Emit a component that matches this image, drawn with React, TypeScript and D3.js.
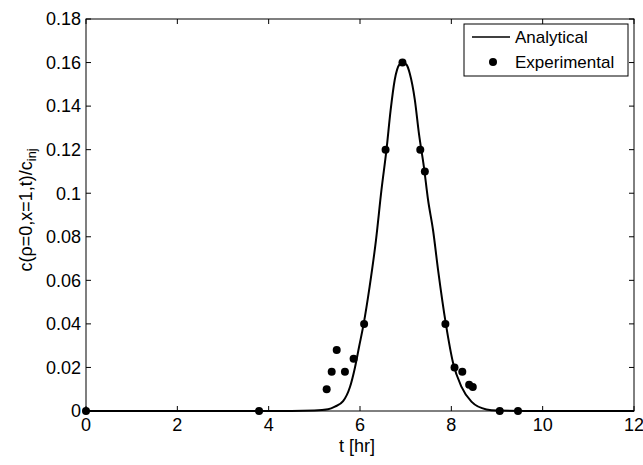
import React, { useEffect, useRef } from 'react';
import * as d3 from 'd3';

// analytical solution
const curveT = [0, 3, 4.5, 5.0, 5.3, 5.45, 5.63, 5.78, 5.89, 5.98, 6.08, 6.21, 6.35, 6.47, 6.58, 6.67, 6.76, 6.86, 6.94, 7.02, 7.09, 7.2, 7.29, 7.4, 7.49, 7.6, 7.71, 7.88, 8.04, 8.22, 8.44, 8.77, 9.0, 10, 12];
const curveC = [0, 0, 0, 0.0002, 0.0008, 0.002, 0.0045, 0.011, 0.02, 0.0295, 0.04, 0.057, 0.0785, 0.1015, 0.12, 0.138, 0.152, 0.159, 0.16, 0.159, 0.155, 0.143, 0.1275, 0.112, 0.097, 0.083, 0.0647, 0.04, 0.0219, 0.0112, 0.0043, 0.0007, 0.0002, 0, 0];

// experimental points
const expT = [0, 3.79, 5.27, 5.38, 5.49, 5.67, 5.86, 6.09, 6.56, 6.93, 7.32, 7.42, 7.87, 8.07, 8.24, 8.39, 8.47, 9.06, 9.46];
const expC = [0, 0, 0.01, 0.018, 0.028, 0.018, 0.024, 0.04, 0.12, 0.16, 0.12, 0.11, 0.04, 0.02, 0.018, 0.012, 0.011, 0, 0];

const xTicks = [0, 2, 4, 6, 8, 10, 12];
const xTickLabels = ['0', '2', '4', '6', '8', '10', '12'];
const yTicks = [0, 0.02, 0.04, 0.06, 0.08, 0.1, 0.12, 0.14, 0.16, 0.18];
const yTickLabels = ['0', '0.02', '0.04', '0.06', '0.08', '0.1', '0.12', '0.14', '0.16', '0.18'];

const legendLabels = ['Analytical', 'Experimental'];

export default function App() {
  const ref = useRef<SVGSVGElement>(null);

  useEffect(() => {
    const svg = d3.select(ref.current);
    svg.selectAll('*').remove();
    const width = 643;
    const height = 465;
    const m = { left: 86, right: 634, top: 19, bottom: 411 };
    const font = 'Liberation Sans, Arial, sans-serif';
    const fs = 18;

    svg.append('rect').attr('width', width).attr('height', height).attr('fill', '#fff');

    const x = d3.scaleLinear().domain([0, 12]).range([m.left, m.right]);
    const y = d3.scaleLinear().domain([0, 0.18]).range([m.bottom, m.top]);

    const tl = 5;
    const g = svg.append('g').attr('stroke', '#000').attr('stroke-width', 1);
    xTicks.forEach((t) => {
      g.append('line').attr('x1', x(t)).attr('x2', x(t)).attr('y1', m.bottom).attr('y2', m.bottom - tl);
      g.append('line').attr('x1', x(t)).attr('x2', x(t)).attr('y1', m.top).attr('y2', m.top + tl);
    });
    yTicks.forEach((t) => {
      g.append('line').attr('x1', m.left).attr('x2', m.left + tl).attr('y1', y(t)).attr('y2', y(t));
      g.append('line').attr('x1', m.right).attr('x2', m.right - tl).attr('y1', y(t)).attr('y2', y(t));
    });

    const line = d3
      .line<number>()
      .x((d, i) => x(curveT[i]))
      .y((d) => y(d))
      .curve(d3.curveMonotoneX);

    svg
      .append('path')
      .datum(curveC)
      .attr('fill', 'none')
      .attr('stroke', '#000')
      .attr('stroke-width', 2)
      .attr('d', line);

    svg
      .append('g')
      .selectAll('circle')
      .data(expC)
      .join('circle')
      .attr('cx', (d, i) => x(expT[i]))
      .attr('cy', (d) => y(d))
      .attr('r', 4)
      .attr('fill', '#000');

    svg
      .append('rect')
      .attr('x', m.left)
      .attr('y', m.top)
      .attr('width', m.right - m.left)
      .attr('height', m.bottom - m.top)
      .attr('fill', 'none')
      .attr('stroke', '#000')
      .attr('stroke-width', 1);

    const tx = svg.append('g').attr('font-family', font).attr('font-size', fs).attr('fill', '#000');
    xTicks.forEach((t, i) => {
      tx.append('text').attr('x', x(t)).attr('y', 431).attr('text-anchor', 'middle').text(xTickLabels[i]);
    });
    yTicks.forEach((t, i) => {
      tx.append('text')
        .attr('x', m.left - 5)
        .attr('y', y(t))
        .attr('dy', '0.35em')
        .attr('text-anchor', 'end')
        .text(yTickLabels[i]);
    });

    tx.append('text').attr('x', 357).attr('y', 452).attr('text-anchor', 'middle').text('t [hr]');

    const yl = tx
      .append('text')
      .attr('transform', `translate(32,210) rotate(-90)`)
      .attr('text-anchor', 'middle');
    yl.append('tspan').text('c(ρ=0,x=1,t)/c');
    yl.append('tspan').attr('font-size', fs * 0.7).attr('dy', 4).text('inj');

    // legend
    const lg = svg.append('g');
    lg.append('rect')
      .attr('x', 464)
      .attr('y', 24)
      .attr('width', 164)
      .attr('height', 52)
      .attr('fill', '#fff')
      .attr('stroke', '#000')
      .attr('stroke-width', 1);
    lg.append('line').attr('x1', 472).attr('x2', 510).attr('y1', 37).attr('y2', 37).attr('stroke', '#000').attr('stroke-width', 1.5);
    lg.append('circle').attr('cx', 493).attr('cy', 62).attr('r', 4).attr('fill', '#000');
    legendLabels.forEach((l, i) => {
      lg.append('text')
        .attr('x', 515)
        .attr('y', 37 + i * 25)
        .attr('dy', '0.35em')
        .attr('font-family', font)
        .attr('font-size', 17)
        .text(l);
    });
  }, []);

  return <svg ref={ref} width={643} height={465} style={{ position: 'absolute', left: 0, top: 0 }}></svg>;
}
